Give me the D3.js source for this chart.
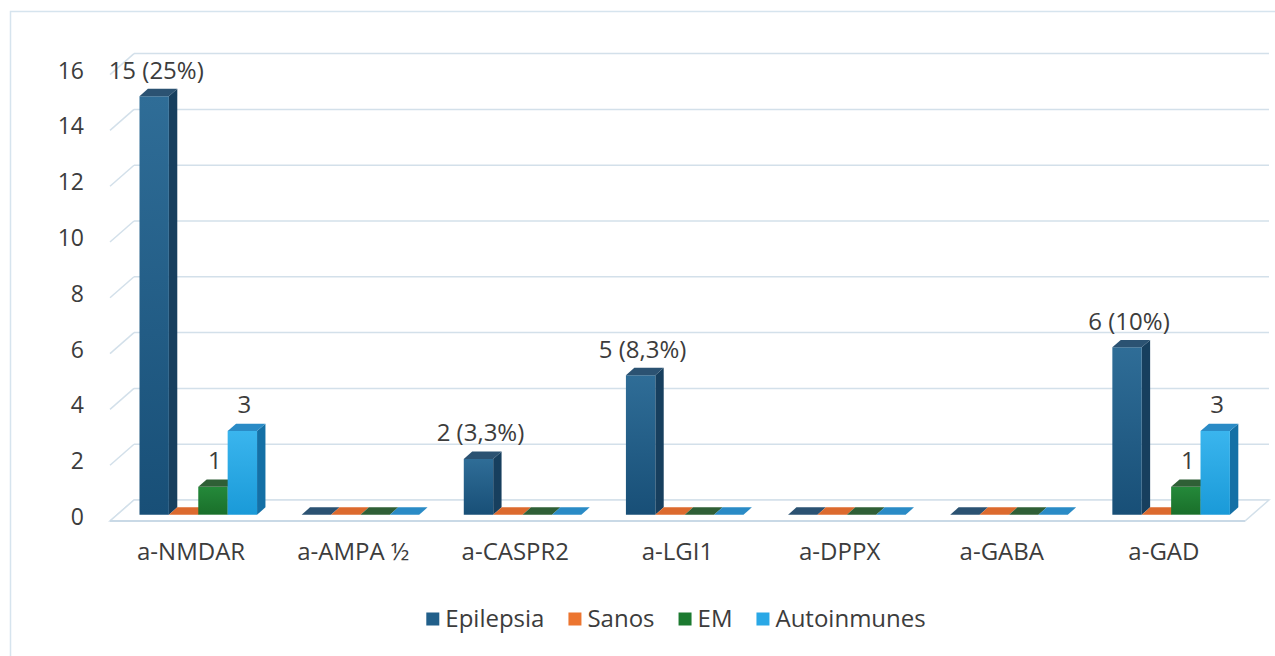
<!DOCTYPE html>
<html>
<head>
<meta charset="utf-8">
<script src="https://cdn.jsdelivr.net/npm/d3@7"></script>
<style>
  html, body { margin: 0; padding: 0; background: #fff; }
  text { font-family: "Open Sans", "Liberation Sans", sans-serif; fill: #3c3c3c; }
</style>
</head>
<body>
<svg id="chart"></svg>
<script>
const width = 1275;
const height = 656;

// data
const categories = ["a-NMDAR", "a-AMPA ½", "a-CASPR2", "a-LGI1", "a-DPPX", "a-GABA", "a-GAD"];
const seriesNames = ["Epilepsia", "Sanos", "EM", "Autoinmunes"];
const epilepsia = [15, 0, 2, 5, 0, 0, 6];
const sanos = [0, 0, 0, 0, 0, 0, 0];
const em = [1, 0, 0, 0, 0, 0, 1];
const autoinmunes = [3, 0, 0, 0, 0, 0, 3];
const yTicks = [0, 2, 4, 6, 8, 10, 12, 14, 16];
const labelsEpilepsia = ["15 (25%)", "", "2 (3,3%)", "5 (8,3%)", "", "", "6 (10%)"];
const labelsEM = ["1", "", "", "", "", "", "1"];
const labelsAuto = ["3", "", "", "", "", "", "3"];

const seriesValues = [epilepsia, sanos, em, autoinmunes];
const seriesLabels = [labelsEpilepsia, [], labelsEM, labelsAuto];

// colours: front, side, top, legend
const colors = [
    { front: ["#2f6d97", "#184f77"], side: "#173f5e", top: "#2b5272", legend: "#215f8a" },
    { front: ["#ec7a3c", "#d8642a"], side: "#b4501f", top: "#dc6a2e", legend: "#ec7530" },
    { front: ["#24893a", "#1a6f2a"], side: "#145420", top: "#2f5f36", legend: "#1c7a30" },
    { front: ["#3ab5ee", "#1a9ad8"], side: "#1470a6", top: "#2a8bc6", legend: "#2aa8e6" }
];

const svg = d3.select("#chart")
    .attr("width", width)
    .attr("height", height);

// outer frame
svg.append("rect")
    .attr("x", 10.5).attr("y", 11.5)
    .attr("width", width).attr("height", height)
    .attr("fill", "none")
    .attr("stroke", "#d6e4ee")
    .attr("stroke-width", 1.5);

// 3D geometry
const left = 110, right = 1245, floorY = 521;
const depth = { dx: 24, dy: -21 };
const barD0 = 0.3, barD1 = 0.65;

const x0 = d3.scaleBand().domain(categories).range([left, right]).paddingInner(0.275).paddingOuter(0.1375);
const x1 = d3.scaleBand().domain(seriesNames).range([0, x0.bandwidth()]);
const y = d3.scaleLinear().domain([0, 16]).range([floorY, floorY - 16 * 27.9]);

const shift = (p, d) => [p[0] + depth.dx * d, p[1] + depth.dy * d];
const gridColor = "#d3e0ea";

// gridlines on back wall and left wall
const grid = svg.append("g");
yTicks.forEach(v => {
    const a = [left, y(v)], b = shift(a, 1);
    grid.append("line")
        .attr("x1", a[0]).attr("y1", a[1]).attr("x2", b[0]).attr("y2", b[1])
        .attr("stroke", gridColor).attr("stroke-width", 1.5);
    grid.append("line")
        .attr("x1", b[0]).attr("y1", b[1]).attr("x2", right + depth.dx).attr("y2", b[1])
        .attr("stroke", gridColor).attr("stroke-width", 1.5);
});

// floor
const fl = [[left, floorY], [right, floorY], shift([right, floorY], 1), shift([left, floorY], 1)];
svg.append("polygon")
    .attr("points", fl.map(p => p.join(",")).join(" "))
    .attr("fill", "#fff")
    .attr("stroke", gridColor).attr("stroke-width", 1.5);
svg.append("line")
    .attr("x1", left).attr("y1", floorY).attr("x2", right).attr("y2", floorY)
    .attr("stroke", "#c9d9e6").attr("stroke-width", 2);

// gradients
const defs = svg.append("defs");
colors.forEach((c, i) => {
    const g = defs.append("linearGradient").attr("id", "grad" + i)
        .attr("x1", 0).attr("y1", 0).attr("x2", 0).attr("y2", 1);
    g.append("stop").attr("offset", "0%").attr("stop-color", c.front[0]);
    g.append("stop").attr("offset", "100%").attr("stop-color", c.front[1]);
});

// bars
const bars = [];
categories.forEach((cat, ci) => {
    seriesNames.forEach((s, si) => {
        bars.push({ cat, ci, s, si, value: seriesValues[si][ci], label: seriesLabels[si][ci] || "" });
    });
});

const pts = arr => arr.map(p => p.join(",")).join(" ");
const barG = svg.append("g");
bars.forEach(d => {
    const xl = x0(d.cat) + x1(d.s);
    const xr = xl + x1.bandwidth();
    const yb = y(0), yt = y(d.value);
    const fbl = shift([xl, yb], barD0), fbr = shift([xr, yb], barD0);
    const ftl = shift([xl, yt], barD0), ftr = shift([xr, yt], barD0);
    const btl = shift([xl, yt], barD1), btr = shift([xr, yt], barD1), bbr = shift([xr, yb], barD1);
    const c = colors[d.si];
    if (d.value > 0) {
        barG.append("polygon").attr("points", pts([fbr, ftr, btr, bbr])).attr("fill", c.side);
        barG.append("polygon").attr("points", pts([fbl, fbr, ftr, ftl])).attr("fill", `url(#grad${d.si})`);
    }
    barG.append("polygon").attr("points", pts([ftl, ftr, btr, btl])).attr("fill", c.top);
    if (d.label) {
        barG.append("text")
            .attr("x", (ftl[0] + ftr[0]) / 2 + 2)
            .attr("y", ftl[1] - 26)
            .attr("dy", "0.35em")
            .attr("text-anchor", "middle")
            .attr("font-size", 24)
            .text(d.label);
    }
});

// y axis labels
svg.append("g").selectAll("text")
    .data(yTicks).enter().append("text")
    .attr("x", 84)
    .attr("y", d => y(d) - 4)
    .attr("dy", "0.35em")
    .attr("text-anchor", "end")
    .attr("font-size", 23)
    .text(d => d);

// category labels
svg.append("g").selectAll("text")
    .data(categories).enter().append("text")
    .attr("x", d => x0(d) + x0.bandwidth() / 2)
    .attr("y", 552)
    .attr("dy", "0.35em")
    .attr("text-anchor", "middle")
    .attr("font-size", 24)
    .text(d => d);

// legend
const legend = svg.append("g");
let lx = 0;
seriesNames.forEach((s, i) => {
    const g = legend.append("g").attr("transform", `translate(${lx},0)`);
    g.append("rect").attr("x", 0).attr("y", -6.5).attr("width", 13).attr("height", 13).attr("fill", colors[i].legend);
    const t = g.append("text").attr("x", 19).attr("y", 0).attr("dy", "0.35em").attr("font-size", 24).text(s);
    lx += 19 + t.node().getComputedTextLength() + 24;
});
legend.attr("transform", `translate(${676 - (lx - 24) / 2},619)`);
</script>
</body>
</html>
